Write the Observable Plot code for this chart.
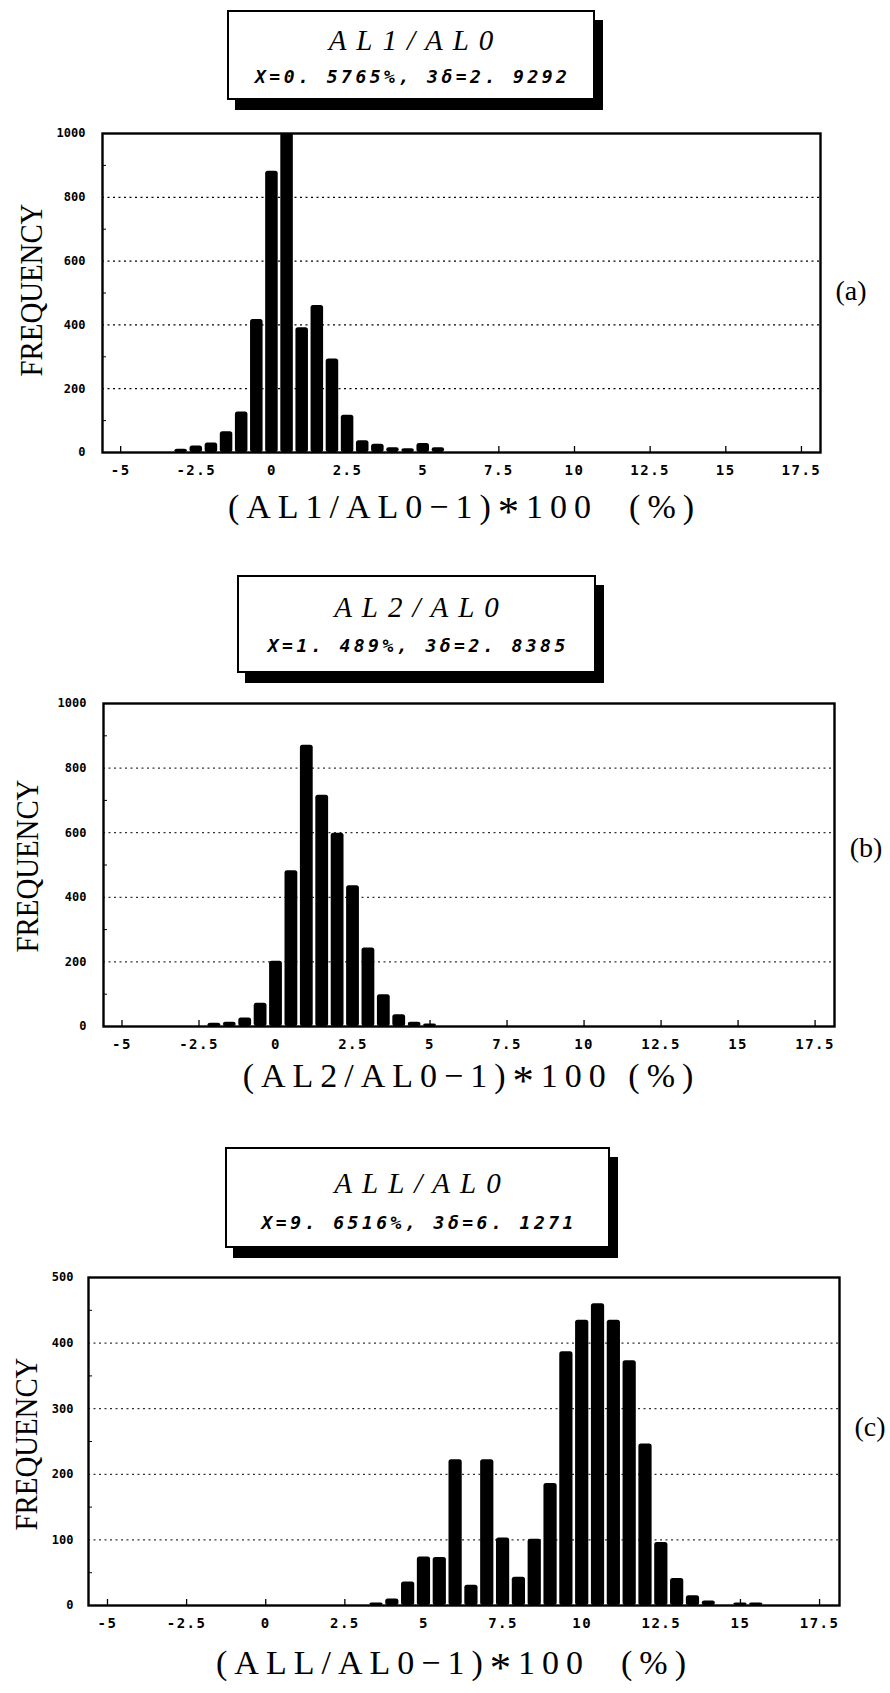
<!DOCTYPE html>
<html>
<head>
<meta charset="utf-8">
<script src="https://cdn.jsdelivr.net/npm/d3@7"></script>
<script src="https://cdn.jsdelivr.net/npm/@observablehq/plot@0.6"></script>
<style>
  html,body{margin:0;padding:0;background:#fff;}
  #page{position:relative;width:890px;height:1693px;background:#fff;overflow:hidden;color:#000;}
  .box{position:absolute;box-sizing:border-box;border:2px solid #000;background:#fff;box-shadow:8px 10px 0 0 #000;}
  .box .t1{position:absolute;left:0;right:0;text-align:center;font-family:"Liberation Serif","DejaVu Serif",serif;font-style:italic;font-size:29px;line-height:29px;letter-spacing:10px;padding-left:10px;white-space:pre;}
  .box .t2{position:absolute;left:0;right:0;text-align:center;font-family:"DejaVu Sans Mono",monospace;font-style:italic;font-weight:bold;font-size:18px;line-height:18px;letter-spacing:3.5px;padding-left:3.5px;white-space:pre;}
  .ylab{position:absolute;font-family:"Liberation Serif",serif;font-size:32px;line-height:32px;white-space:nowrap;transform:translate(-50%,-50%) rotate(-90deg) scaleX(0.9);}
  .plab{position:absolute;font-family:"Liberation Serif",serif;font-size:28px;line-height:28px;white-space:nowrap;transform:translate(-50%,-50%);}
  .xlab{position:absolute;font-family:"Liberation Serif",serif;font-size:34px;line-height:40px;letter-spacing:7px;padding-left:7px;white-space:pre;transform:translate(-50%,-50%);}
  .ast{font-size:1.25em;line-height:1;vertical-align:-0.2em;}
  #page svg g[aria-label="x-axis tick label"] text{letter-spacing:1.5px;}
</style>
</head>
<body>
<div id="page"></div>
<script>
// ---------- data ----------
const xTickValues = [-5, -2.5, 0, 2.5, 5, 7.5, 10, 12.5, 15, 17.5];
const xDomain = [-5.6, 18.13];
const binHalf = 0.25;

const binsA = [-3, -2.5, -2, -1.5, -1, -0.5, 0, 0.5, 1, 1.5, 2, 2.5, 3, 3.5, 4, 4.5, 5, 5.5];
const freqA = [10, 20, 30, 65, 127, 417, 882, 1000, 391, 461, 293, 117, 37, 26, 15, 12, 28, 15];

const binsB = [-2, -1.5, -1, -0.5, 0, 0.5, 1, 1.5, 2, 2.5, 3, 3.5, 4, 4.5, 5];
const freqB = [10, 13, 26, 72, 202, 482, 871, 716, 598, 436, 243, 98, 36, 13, 8];

const binsC = [3.5, 4, 4.5, 5, 5.5, 6, 6.5, 7, 7.5, 8, 8.5, 9, 9.5, 10, 10.5, 11, 11.5, 12, 12.5, 13, 13.5, 14, 14.5, 15, 15.5];
const freqC = [4, 10, 36, 74, 73, 222, 31, 222, 103, 43, 101, 186, 387, 435, 460, 435, 373, 246, 96, 41, 15, 7, 0, 4, 4];

const yTicksAB = [0, 200, 400, 600, 800, 1000];
const yGridAB = [200, 400, 600, 800];
const yMinorAB = [100, 300, 500, 700, 900];
const yTicksC = [0, 100, 200, 300, 400, 500];
const yGridC = [100, 200, 300, 400];
const yMinorC = [50, 150, 250, 350, 450];

const titles = ["AL1/AL0", "AL2/AL0", "ALL/AL0"];
const stats = ["X=0. 5765%, 3δ=2. 9292", "X=1. 489%, 3δ=2. 8385", "X=9. 6516%, 3δ=6. 1271"];
const xTitles = [["(AL1/AL0−1)", "100  (%)"], ["(AL2/AL0−1)", "100 (%)"], ["(ALL/AL0−1)", "100  (%)"]];
const panelLabels = ["(a)", "(b)", "(c)"];
const yTitle = "FREQUENCY";

// ---------- layout ----------
const panels = [
  {bins: binsA, freq: freqA, yMax: 1000, yTicks: yTicksAB, grid: yGridAB, minor: yMinorAB, gridW: 1.3,
   L: 102, R: 820, T: 133, B: 452, yPad: 17,
   box: {left: 227, top: 10, w: 368, h: 90, t1: 14, t2: 56},
   ylab: [31, 290], plab: [851, 291], xlab: [461, 510]},
  {bins: binsB, freq: freqB, yMax: 1000, yTicks: yTicksAB, grid: yGridAB, minor: yMinorAB, gridW: 1,
   L: 103, R: 834, T: 703, B: 1026, yPad: 17,
   box: {left: 237, top: 575, w: 359, h: 98, t1: 16, t2: 60},
   ylab: [27, 866], plab: [866, 848], xlab: [468, 1079]},
  {bins: binsC, freq: freqC, yMax: 500, yTicks: yTicksC, grid: yGridC, minor: yMinorC, gridW: 1,
   L: 88, R: 839, T: 1277, B: 1605, yPad: 15,
   box: {left: 225, top: 1147, w: 385, h: 101, t1: 20, t2: 65},
   ylab: [26, 1444], plab: [870, 1427], xlab: [451, 1666]}
];

const page = document.getElementById("page");

panels.forEach((p, k) => {
  const data = p.bins.map((c, i) => ({center: c, freq: p.freq[i]}));
  const mT = 10, mB = 45;
  const fw = p.R - p.L, fh = p.B - p.T;
  const chart = Plot.plot({
    width: 890,
    height: fh + mT + mB,
    marginLeft: p.L, marginRight: 890 - p.R, marginTop: mT, marginBottom: mB,
    x: {domain: xDomain},
    y: {domain: [0, p.yMax]},
    style: {background: "transparent", color: "#000", overflow: "visible"},
    marks: [
      Plot.ruleY(p.grid, {stroke: "#000", strokeWidth: p.gridW, strokeDasharray: "2,3.5"}),
      Plot.ruleY(p.minor, {stroke: "#000", strokeWidth: 1, insetRight: fw - 4}),
      Plot.ruleX(xTickValues, {stroke: "#000", strokeWidth: 1.3, insetTop: fh - 6}),
      Plot.rect(data, {x1: d => d.center - binHalf, x2: d => d.center + binHalf, y1: 0, y2: "freq",
        fill: "#000", insetLeft: 1.3, insetRight: 1.3, rx: 2.5}),
      Plot.frame({stroke: "#000", strokeWidth: 2.4}),
      Plot.axisY(p.yTicks, {anchor: "left", tickSize: 0, tickPadding: p.yPad, fontSize: 12, fontWeight: "bold",
        fontFamily: "DejaVu Sans Mono", label: null, tickFormat: d => String(d)}),
      Plot.axisX(xTickValues, {anchor: "bottom", tickSize: 0, tickPadding: 13, fontSize: 14, fontWeight: "bold",
        fontFamily: "DejaVu Sans Mono", label: null, tickFormat: d => String(d)})
    ]
  });
  chart.style.position = "absolute";
  chart.style.left = "0px";
  chart.style.top = (p.T - mT) + "px";
  page.appendChild(chart);

  // title box
  const box = document.createElement("div");
  box.className = "box";
  box.style.left = p.box.left + "px";
  box.style.top = p.box.top + "px";
  box.style.width = p.box.w + "px";
  box.style.height = p.box.h + "px";
  const t1 = document.createElement("div");
  t1.className = "t1"; t1.style.top = p.box.t1 + "px"; t1.textContent = titles[k];
  const t2 = document.createElement("div");
  t2.className = "t2"; t2.style.top = p.box.t2 + "px"; t2.textContent = stats[k];
  box.appendChild(t1); box.appendChild(t2);
  page.appendChild(box);

  // y title
  const yl = document.createElement("div");
  yl.className = "ylab"; yl.style.left = p.ylab[0] + "px"; yl.style.top = p.ylab[1] + "px";
  yl.textContent = yTitle;
  page.appendChild(yl);

  // panel label
  const pl = document.createElement("div");
  pl.className = "plab"; pl.style.left = p.plab[0] + "px"; pl.style.top = p.plab[1] + "px";
  pl.textContent = panelLabels[k];
  page.appendChild(pl);

  // x title
  const xl = document.createElement("div");
  xl.className = "xlab"; xl.style.left = p.xlab[0] + "px"; xl.style.top = p.xlab[1] + "px";
  const a = document.createTextNode(xTitles[k][0]);
  const ast = document.createElement("span"); ast.className = "ast"; ast.textContent = "*";
  const b = document.createTextNode(xTitles[k][1]);
  xl.appendChild(a); xl.appendChild(ast); xl.appendChild(b);
  page.appendChild(xl);
});
</script>
</body>
</html>
